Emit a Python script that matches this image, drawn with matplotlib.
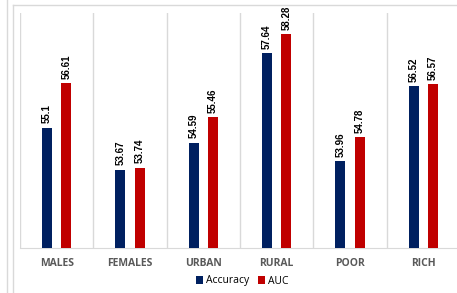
import matplotlib
matplotlib.use("Agg")
import numpy as np
from matplotlib import pyplot as plt
from matplotlib.lines import Line2D

# data
GROUPS = ["MALES", "FEMALES", "URBAN", "RURAL", "POOR", "RICH"]
ACCURACY = [55.1, 53.67, 54.59, 57.64, 53.96, 56.52]
AUC = [56.61, 53.74, 55.46, 58.28, 54.78, 56.57]
ACC_LABELS = ["55.1", "53.67", "54.59", "57.64", "53.96", "56.52"]
AUC_LABELS = ["56.61", "53.74", "55.46", "58.28", "54.78", "56.57"]

NAVY = "#002060"
RED = "#C00000"
GRID = "#D9D9D9"

fig = plt.figure(figsize=(4.57, 2.93), dpi=100)
fig.patch.set_facecolor("white")

# outer frame lines of the chart box (cut-off screenshot look)
fig.add_artist(Line2D([7 / 457, 7 / 457], [0, 1], color=GRID, lw=1))
fig.add_artist(Line2D([13 / 457, 13 / 457], [0, 1 - 5 / 293], color=GRID, lw=1))
fig.add_artist(Line2D([13 / 457, 1], [1 - 5 / 293, 1 - 5 / 293], color=GRID, lw=1))

ax = fig.add_axes([20 / 457, 45 / 293, 440 / 457, 235 / 293])
x = np.arange(len(GROUPS))
w = 0.136
off = 0.13
b1 = ax.bar(x - off, ACCURACY, w, color=NAVY, label="Accuracy", zorder=3)
b2 = ax.bar(x + off, AUC, w, color=RED, label="AUC", zorder=3)

ax.set_ylim(51, 59)
ax.set_xlim(-0.5, len(GROUPS) - 0.5)

for i in range(len(GROUPS) + 1):
    ax.axvline(i - 0.5, color=GRID, lw=1, zorder=1)

for bars, labs in ((b1, ACC_LABELS), (b2, AUC_LABELS)):
    for rect, lab in zip(bars, labs):
        ax.annotate(lab, (rect.get_x() + rect.get_width() / 2, rect.get_height()),
                    xytext=(0, 3), textcoords="offset points",
                    rotation=90, ha="center", va="bottom",
                    fontsize=7, fontweight="bold", color="black",
                    family="Liberation Sans")

for s in ("top", "right", "left"):
    ax.spines[s].set_visible(False)
ax.spines["bottom"].set_color(GRID)
ax.set_yticks([])
ax.set_xticks(x)
ax.set_xticklabels(GROUPS, fontsize=7.5, fontweight="bold", color="#595959",
                   family="Open Sans")
ax.tick_params(axis="x", length=0, pad=7)

fig.legend(handles=[b1, b2], loc="center", bbox_to_anchor=(242 / 457, 1 - 281 / 293),
           ncol=2, frameon=False, handlelength=0.7, handleheight=0.7,
           handletextpad=0.3, columnspacing=0.8, borderpad=0.1,
           prop={"family": "Open Sans", "size": 7.5})

fig.savefig("out.png", dpi=100)
